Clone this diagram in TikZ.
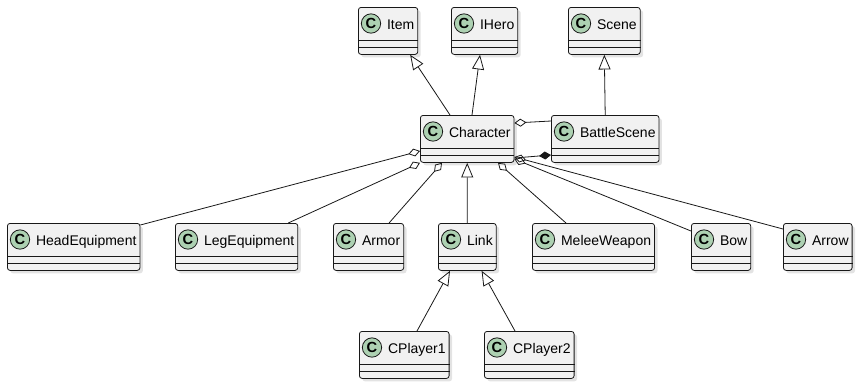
\documentclass[tikz,border=0pt]{standalone}
\usepackage{fontspec}
\setmainfont{Liberation Sans}
\usepackage{xcolor}
\usepackage{tikz}
\usetikzlibrary{arrows.meta, shadows}

\definecolor{umlfill}{HTML}{F1F1F1}
\definecolor{umlline}{HTML}{181818}
\definecolor{umlspot}{HTML}{ADD1B2}

\begin{document}
\begin{tikzpicture}[
  x=0.75pt, y=-0.75pt,
  font=\fontsize{10.5}{12}\selectfont,
  cls/.style={rectangle, draw=umlline, fill=umlfill, rounded corners=2pt, line width=0.6pt, anchor=north west, inner xsep=0pt, inner ysep=0pt, text height=16.2pt, text depth=19.05pt, drop shadow={shadow xshift=2.2pt, shadow yshift=-2.2pt, opacity=0.22}, execute at begin node={\hspace*{21.5pt}}, execute at end node={\hspace*{2.6pt}}},
  cbadge/.style={circle, draw=umlline, fill=umlspot, line width=0.6pt, minimum size=14.5pt, inner sep=0pt, font=\fontsize{11}{12}\selectfont\bfseries},
  sep/.style={draw=umlline, line width=0.6pt},
  inherit/.style={-{Triangle[open, length=11pt, width=9pt]}, draw=umlline, line width=0.6pt},
  agg/.style={{Diamond[open, length=9pt, width=6pt]}-, draw=umlline, line width=0.6pt},
  comp/.style={-{Diamond[length=9pt, width=6pt]}, draw=umlline, line width=0.6pt}
]
\useasboundingbox (0,0) rectangle (862,390);

% classes
\node[cls] (Item) at (358,7) {Item};
\node[cls] (IHero) at (451,7) {IHero};
\node[cls] (Scene) at (568,7) {Scene};
\node[cls] (Character) at (420,115) {Character};
\node[cls] (BattleScene) at (551,115) {BattleScene};
\node[cls] (HeadEquipment) at (7,223) {HeadEquipment};
\node[cls] (LegEquipment) at (175,223) {LegEquipment};
\node[cls] (Armor) at (333,223) {Armor};
\node[cls] (Link) at (438,223) {Link};
\node[cls] (MeleeWeapon) at (532,223) {MeleeWeapon};
\node[cls] (Bow) at (691,223) {Bow};
\node[cls] (Arrow) at (783,223) {Arrow};
\node[cls] (CPlayer1) at (359,331) {CPlayer1};
\node[cls] (CPlayer2) at (484,331) {CPlayer2};

% compartments and class spot
\foreach \n in {Item,IHero,Scene,Character,BattleScene,HeadEquipment,LegEquipment,Armor,Link,MeleeWeapon,Bow,Arrow,CPlayer1,CPlayer2} {
  \draw[sep] ([shift={(0,33)}]\n.north west) -- ([shift={(0,33)}]\n.north east);
  \draw[sep] ([shift={(0,40)}]\n.north west) -- ([shift={(0,40)}]\n.north east);
  \node[cbadge] at ([shift={(13,16.5)}]\n.north west) {C};
}

% generalisation
\draw[inherit] ([shift={(30,0)}]Character.north west) -- ([shift={(-8,0)}]Item.south east);
\draw[inherit] ([shift={(52,0)}]Character.north west) -- ([shift={(29,0)}]IHero.south west);
\draw[inherit] (BattleScene.north) -- (Scene.south);
\draw[inherit] (Link.north) -- (Character.south);
\draw[inherit] ([shift={(58,0)}]CPlayer1.north west) -- ([shift={(12,0)}]Link.south west);
\draw[inherit] ([shift={(31,0)}]CPlayer2.north west) -- ([shift={(-15,0)}]Link.south east);

% aggregation
\draw[agg] ([shift={(0,36)}]Character.north west) -- ([shift={(0,2)}]HeadEquipment.north east);
\draw[agg] (Character.south west) -- ([shift={(-10,0)}]LegEquipment.north east);
\draw[agg] ([shift={(22,0)}]Character.south west) -- ([shift={(-15,0)}]Armor.north east);
\draw[agg] ([shift={(78,0)}]Character.south west) -- ([shift={(34,0)}]MeleeWeapon.north west);
\draw[agg] ([shift={(0,44)}]Character.north east) -- ([shift={(0,8)}]Bow.north west);
\draw[agg] ([shift={(0,42)}]Character.north east) -- ([shift={(0,6)}]Arrow.north west);
\draw[agg] ([shift={(0,8)}]Character.north east) -- ([shift={(0,6)}]BattleScene.north west);

% composition
\draw[comp] ([shift={(0,43)}]Character.north east) -- ([shift={(0,40)}]BattleScene.north west);
\end{tikzpicture}
\end{document}
